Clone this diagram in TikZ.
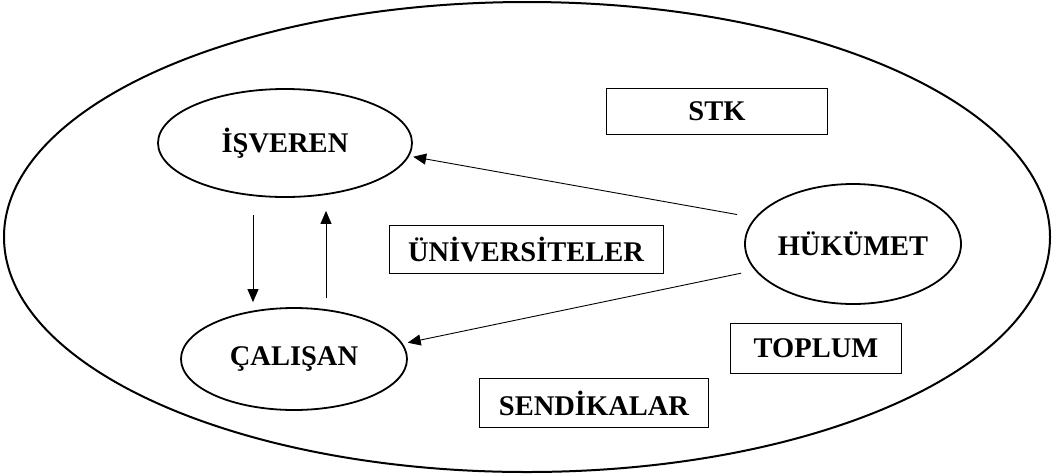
\documentclass[tikz,border=0pt]{standalone}
\usepackage{fontspec}
\setmainfont{Liberation Serif}
\usetikzlibrary{shapes.geometric,arrows.meta}
\begin{document}
\begin{tikzpicture}[x=1pt,y=-1pt,
  lbl/.style={font=\fontsize{28.5}{30}\selectfont\bfseries, inner sep=0pt},
  actor/.style={lbl, ellipse, draw, line width=1.8pt},
  field/.style={lbl, rectangle, draw, line width=1pt},
  arr/.style={-{Triangle[length=13pt,width=11pt]}, line width=0.9pt}]
\useasboundingbox (0,0) rectangle (1052,475);
% surrounding field
\draw[line width=2pt] (527,237) ellipse [x radius=523, y radius=235];
% actors
\node[actor, minimum width=254pt, minimum height=108pt] (isv) at (285,143) {İŞVEREN};
\node[actor, minimum width=226pt, minimum height=102pt] (cal) at (294,359) {ÇALIŞAN};
\node[actor, minimum width=216pt, minimum height=120pt] (hk)  at (853,244) {HÜKÜMET};
% other stakeholders
\node[field, minimum width=221pt, minimum height=46pt] (stk) at (717,111) {STK};
\node[field, minimum width=274pt, minimum height=48pt] (uni) at (526,249) {ÜNİVERSİTELER};
\node[field, minimum width=171pt, minimum height=50pt] (top) at (816,348) {TOPLUM};
\node[field, minimum width=229pt, minimum height=49pt] (sen) at (594,403) {SENDİKALAR};
% relations
\draw[arr, shorten <=18pt, shorten >=4pt] (hk.165) -- (isv.-6);
\draw[arr, shorten <=14pt, shorten >=5pt] (hk.195) -- (cal.8);
\draw[arr] ([xshift=-32pt,yshift=-17pt]isv.south) -- ([xshift=-41pt,yshift=5pt]cal.north);
\draw[arr] ([xshift=32pt,yshift=9pt]cal.north) -- ([xshift=41pt,yshift=-13pt]isv.south);
\end{tikzpicture}
\end{document}
